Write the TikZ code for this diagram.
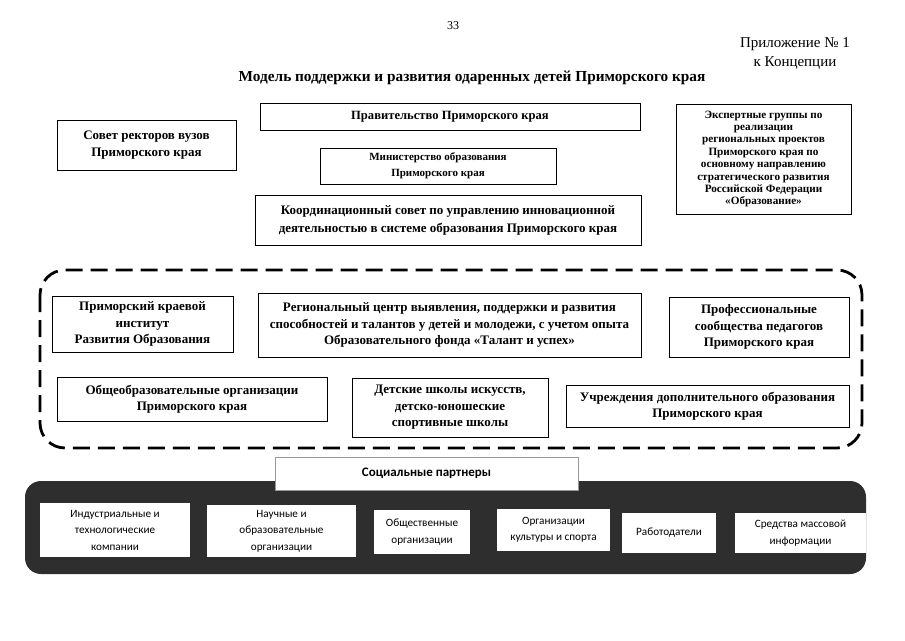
\documentclass[tikz,border=0pt]{standalone}
\usepackage{fontspec}
\setmainfont{Liberation Serif}
\newfontfamily\partnerfont{Carlito}
\begin{document}
\begin{tikzpicture}[x=1pt, y=-1pt,
    every node/.style={inner sep=2pt, outer sep=0pt},
    boxsize/.style 2 args={minimum width=#1pt, minimum height=#2pt},
    orgbox/.style={draw, line width=0.9pt, align=center, font=\bfseries\fontsize{13}{16.5}\selectfont},
    smallbox/.style={orgbox, font=\bfseries\fontsize{11.2}{12.4}\selectfont},
    partnerbox/.style={fill=white, align=center, font=\partnerfont\fontsize{11.2}{16.5}\selectfont}]
  \useasboundingbox (0,0) rectangle (905,640);
  % header
  \node[font=\fontsize{12}{14}\selectfont] (page) at (453,26) {33};
  \node[align=center, font=\fontsize{15}{19}\selectfont] (appendix) at (795,53) {Приложение № 1\\к Концепции};
  \node[font=\bfseries\fontsize{15.3}{18}\selectfont] (title) at (472,78)
    {Модель поддержки и развития одаренных детей Приморского края};
  % management level
  \node[orgbox, boxsize={380}{27}, font=\bfseries\fontsize{12.6}{16}\selectfont] (gov) at (450,116.5) {Правительство Приморского края};
  \node[orgbox, boxsize={179}{50}] (rectors) at (146.5,145) {Совет ректоров вузов\\Приморского края};
  \node[orgbox, boxsize={236}{36}, font=\bfseries\fontsize{11}{16}\selectfont] (ministry) at (438,166)
    {Министерство образования\\Приморского края};
  \node[orgbox, boxsize={386}{50}, font=\bfseries\fontsize{13}{18}\selectfont] (council) at (448,220)
    {Координационный совет по управлению инновационной\\деятельностью в системе образования Приморского края};
  \node[smallbox, boxsize={175}{110}] (experts) at (763.5,159)
    {Экспертные группы по\\реализации\\региональных проектов\\Приморского края  по\\основному направлению\\стратегического развития\\Российской Федерации\\«Образование»};
  % regional network
  \draw[line width=2.8pt, dash pattern=on 17pt off 8pt, rounded corners=25pt] (40,270) rectangle (862,448);
  \node[orgbox, boxsize={181}{56}] (institute) at (142.5,324)
    {Приморский краевой\\институт\\Развития Образования};
  \node[orgbox, boxsize={383}{64}] (center) at (449.5,325)
    {Региональный центр выявления, поддержки и развития\\способностей и талантов у детей и молодежи, с учетом опыта\\Образовательного фонда «Талант и успех»};
  \node[orgbox, boxsize={180}{60}] (teachers) at (759,327)
    {Профессиональные\\сообщества педагогов\\Приморского края};
  \node[orgbox, boxsize={270}{44}] (schools) at (192,399)
    {Общеобразовательные организации\\Приморского края};
  \node[orgbox, boxsize={196}{59}] (arts) at (450,407.5)
    {Детские школы искусств,\\детско-юношеские\\спортивные школы};
  \node[orgbox, boxsize={283}{42}] (extra) at (707.5,406)
    {Учреждения дополнительного образования\\Приморского края};
  % social partners
  \fill[black!82, rounded corners=16pt] (25,481) rectangle (866,574);
  \node[partnerbox, draw=black!40, line width=0.6pt, boxsize={303}{33}, font=\partnerfont\bfseries\fontsize{13}{15}\selectfont]
    (partners) at (426.5,473.5) {Социальные партнеры};
  \foreach \name/\cx/\cy/\w/\h/\txt in {
      industry/115/530/150/54/{Индустриальные и\\технологические\\компании},
      science/281.5/531/149/52/{Научные и\\образовательные\\организации},
      public/422/532/96/44/{Общественные\\организации},
      culture/553.5/530/113/42/{Организации\\культуры и спорта},
      employers/669/533/94/40/{Работодатели},
      media/800.5/533/131/40/{Средства массовой\\информации}}
    \node[partnerbox, boxsize={\w}{\h}] (\name) at (\cx,\cy) {\txt};
\end{tikzpicture}
\end{document}
